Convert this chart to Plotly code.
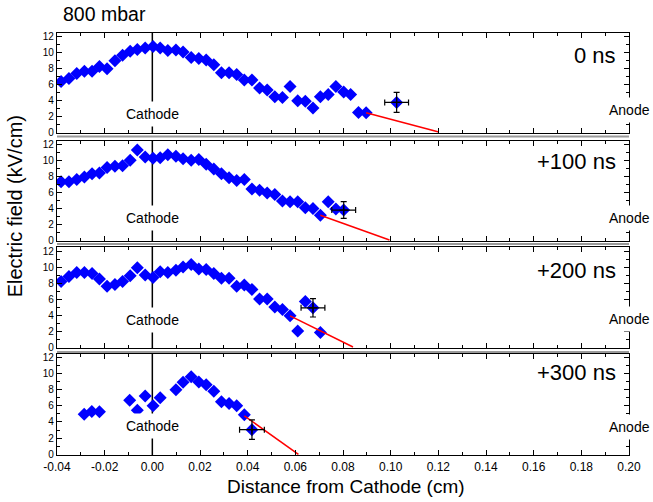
import plotly.graph_objects as go

# ---------------- data ----------------
x_p1 = [-0.0383, -0.035, -0.0317, -0.0285, -0.0253, -0.0222, -0.019, -0.0157, -0.0125, -0.0093,
        -0.0063, -0.003, 0.0003, 0.0033, 0.0065, 0.0099, 0.0129, 0.0163, 0.0195, 0.0226,
        0.0258, 0.029, 0.0322, 0.0354, 0.0386, 0.0418, 0.045, 0.0482, 0.0514, 0.0546,
        0.0578, 0.061, 0.0642, 0.0674, 0.0705, 0.0738, 0.077, 0.0803, 0.0832, 0.0865, 0.0897]
y_p1 = [6.3, 6.7, 7.3, 7.6, 7.6, 8.2, 7.9, 8.9, 9.6, 10.1,
        10.3, 10.5, 10.7, 10.5, 10.2, 10.25, 10.0, 9.3, 9.2, 9.0,
        8.4, 7.4, 7.4, 7.2, 6.5, 6.5, 5.5, 5.25, 4.4, 4.3,
        5.7, 3.9, 3.85, 3.0, 4.4, 4.7, 5.7, 5.0, 4.7, 2.45, 2.4]

x_p2 = x_p1[:37]
y_p2 = [7.3, 7.3, 7.6, 7.9, 8.3, 8.4, 9.1, 9.25, 9.3, 10.0,
        11.3, 10.4, 10.25, 10.3, 10.7, 10.5, 10.2, 10.0, 10.1, 9.5,
        8.9, 8.3, 7.8, 7.45, 7.6, 6.4, 6.25, 5.9, 5.7, 4.9,
        4.8, 4.8, 4.05, 3.95, 3.1, 4.8, 3.9]

x_p3 = x_p1[:33] + [0.0705]
y_p3 = [8.2, 8.8, 9.3, 9.3, 9.2, 8.5, 7.6, 7.8, 8.2, 8.9,
        9.9, 9.0, 8.7, 9.4, 9.3, 9.6, 10.0, 10.3, 9.75, 9.7,
        9.2, 8.6, 8.6, 7.6, 7.75, 7.2, 6.0, 6.0, 5.0, 4.7,
        3.9, 2.0, 5.7, 1.8]

x_p4 = [-0.0286, -0.0254, -0.0222, -0.0095, -0.0063, -0.003, 0.0003, 0.0033, 0.0099,
        0.0129, 0.0163, 0.0195, 0.0226, 0.0258, 0.029, 0.0322, 0.0354, 0.0386]
y_p4 = [4.95, 5.3, 5.25, 6.7, 5.45, 7.2, 6.0, 7.0, 8.0,
        8.9, 9.6, 8.95, 8.6, 7.8, 6.5, 6.3, 6.0, 4.9]

# error-bar points: x, y, x-error, y-error
err_x = [0.1025, 0.0803, 0.0674, 0.0418]
err_y = [3.7, 3.75, 4.9, 3.05]
err_dx = [0.005, 0.005, 0.005, 0.0052]
err_dy = [1.25, 1.05, 1.15, 1.2]

# red extrapolation lines (start, end)
fit_x = [[0.0897, 0.1202], [0.0705, 0.0995], [0.0578, 0.0842], [0.0386, 0.0613]]
fit_y = [[2.4, 0.0], [3.1, 0.0], [3.9, 0.0], [4.75, 0.0]]

panel_labels = ["0 ns", "+100 ns", "+200 ns", "+300 ns"]
label_y = [9.6, 9.8, 9.6, 10.1]
cathode_y = [2.3, 2.7, 3.4, 3.45]
anode_y = [2.7, 2.7, 3.5, 3.4]

x_tick_vals = [-0.04, -0.02, 0.0, 0.02, 0.04, 0.06, 0.08, 0.10, 0.12, 0.14, 0.16, 0.18, 0.20]
x_tick_text = ["-0.04", "-0.02", "0.00", "0.02", "0.04", "0.06", "0.08", "0.10",
               "0.12", "0.14", "0.16", "0.18", "0.20"]
y_tick_vals = [0, 2, 4, 6, 8, 10, 12]

xs = [x_p1, x_p2, x_p3, x_p4]
ys = [y_p1, y_p2, y_p3, y_p4]

# ---------------- layout geometry ----------------
W, H = 653, 502
ML, MR, MT, MB = 57, 20, 33, 47
PH = H - MT - MB
frames = [(33, 133), (141, 241), (247, 348), (354, 455)]   # top, bottom px
zero12 = [(132, 36), (240, 144.3), (347, 251), (454.3, 357.3)]
separators = [136.5, 244, 352]

def ypaper(py):
    return (H - MB - py) / PH

def xpaper(px):
    return (px - ML) / (W - ML - MR)

FONT = "Liberation Sans, Arial, sans-serif"
BLUE = "#0000FF"

fig = go.Figure()
layout = dict(
    width=W, height=H,
    margin=dict(l=ML, r=MR, t=MT, b=MB),
    paper_bgcolor="white", plot_bgcolor="white",
    showlegend=False,
    font=dict(family=FONT, color="black"),
)
annotations = []
shapes = []

for i in range(4):
    n = i + 1
    xa = "x" if n == 1 else f"x{n}"
    ya = "y" if n == 1 else f"y{n}"
    top, bot = frames[i]
    z, t12 = zero12[i]
    upp = 12.0 / (z - t12)
    yr = [-(bot - z) * upp, 12 + (t12 - top) * upp]

    fig.add_trace(go.Scatter(x=xs[i], y=ys[i], mode="markers", xaxis=xa, yaxis=ya,
                             marker=dict(symbol="diamond", size=10, color=BLUE,
                                         line=dict(width=0))))
    fig.add_trace(go.Scatter(x=fit_x[i], y=fit_y[i], mode="lines", xaxis=xa, yaxis=ya,
                             line=dict(color="red", width=1.5)))
    fig.add_trace(go.Scatter(x=[err_x[i]], y=[err_y[i]], mode="markers", xaxis=xa, yaxis=ya,
                             marker=dict(symbol="diamond", size=10, color=BLUE,
                                         line=dict(width=0))))
    fig.add_trace(go.Scatter(x=[err_x[i]], y=[err_y[i]], mode="markers", xaxis=xa, yaxis=ya,
                             marker=dict(symbol="cross-thin", size=6, color="black",
                                         line=dict(width=1.2, color="black")),
                             error_x=dict(type="data", array=[err_dx[i]], color="black",
                                          thickness=1.2, width=3),
                             error_y=dict(type="data", array=[err_dy[i]], color="black",
                                          thickness=1.2, width=3)))

    axkey_x = "xaxis" if n == 1 else f"xaxis{n}"
    axkey_y = "yaxis" if n == 1 else f"yaxis{n}"
    layout[axkey_x] = dict(
        domain=[0, 1], anchor=ya, range=[-0.04, 0.20],
        showline=True, linecolor="black", linewidth=1.2, mirror="allticks",
        ticks="inside", ticklen=5, tickwidth=1, tickcolor="black",
        tickvals=x_tick_vals, ticktext=x_tick_text,
        showticklabels=(n == 4), tickfont=dict(size=12, family=FONT),
        minor=dict(ticks="inside", ticklen=3, dtick=0.01, tick0=0, tickcolor="black"),
        showgrid=False, zeroline=False,
    )
    layout[axkey_y] = dict(
        domain=[ypaper(bot), ypaper(top)], anchor=xa, range=yr,
        showline=True, linecolor="black", linewidth=1.2, mirror="allticks",
        ticks="inside", ticklen=5, tickwidth=1, tickcolor="black",
        tickvals=y_tick_vals, tickfont=dict(size=10, family=FONT),
        minor=dict(ticks="inside", ticklen=3, dtick=1, tick0=0, tickcolor="black"),
        showgrid=False, zeroline=False,
    )

    shapes.append(dict(type="line", xref=xa, yref=f"{ya} domain", x0=0, x1=0, y0=0, y1=1,
                       line=dict(color="black", width=1.5), layer="below"))

    annotations.append(dict(x=0.1954, y=label_y[i], xref=xa, yref=ya, text=panel_labels[i],
                            showarrow=False, xanchor="right", yanchor="middle",
                            font=dict(size=22, family=FONT)))
    annotations.append(dict(x=0.0, y=cathode_y[i], xref=xa, yref=ya, text="Cathode",
                            showarrow=False, xanchor="center", yanchor="middle",
                            bgcolor="white", borderpad=4, font=dict(size=14, family=FONT)))
    annotations.append(dict(x=0.2, y=anode_y[i], xref=xa, yref=ya, text="Anode",
                            showarrow=False, xanchor="center", yanchor="middle",
                            bgcolor="white", borderpad=4, font=dict(size=14, family=FONT)))

for sp in separators:
    shapes.append(dict(type="line", xref="paper", yref="paper", x0=0, x1=1,
                       y0=ypaper(sp), y1=ypaper(sp),
                       line=dict(color="#9a9a9a", width=2)))

annotations.append(dict(x=xpaper(61), y=ypaper(14), xref="paper", yref="paper",
                        text="800 mbar", showarrow=False, xanchor="left", yanchor="middle",
                        font=dict(size=19.5, family=FONT)))
annotations.append(dict(x=xpaper(348), y=ypaper(487), xref="paper", yref="paper",
                        text="Distance from Cathode (cm)", showarrow=False,
                        xanchor="center", yanchor="middle", font=dict(size=19, family=FONT)))
annotations.append(dict(x=xpaper(15), y=ypaper(206), xref="paper", yref="paper",
                        text="Electric field (kV/cm)", showarrow=False, textangle=-90,
                        xanchor="center", yanchor="middle", font=dict(size=20, family=FONT)))

layout["annotations"] = annotations
layout["shapes"] = shapes
fig.update_layout(**layout)
fig.write_html("out.html")
